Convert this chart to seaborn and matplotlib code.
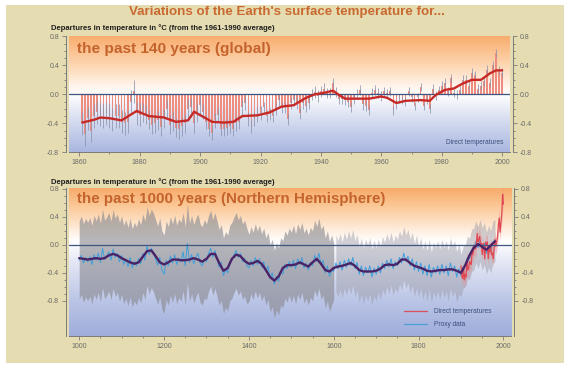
import numpy as np
import matplotlib
matplotlib.use("Agg")
import matplotlib.pyplot as plt
import seaborn as sns
from matplotlib.colors import LinearSegmentedColormap
from matplotlib.patches import Rectangle
from matplotlib.lines import Line2D
from matplotlib.ticker import MultipleLocator, FixedLocator, FormatStrFormatter

# ---------------- global annual anomalies, 1861-2000 (deg C vs 1961-1990) ----------------
global_years = list(range(1861, 2001))
global_anom = [
    -0.40, -0.55, -0.33, -0.50, -0.30, -0.25, -0.28, -0.30, -0.26, -0.30,
    -0.35, -0.30, -0.30, -0.38, -0.40, -0.38, -0.10, 0.04, -0.26, -0.28,
    -0.25, -0.28, -0.35, -0.42, -0.40, -0.36, -0.45, -0.33, -0.20, -0.42,
    -0.38, -0.46, -0.48, -0.44, -0.40, -0.20, -0.18, -0.40, -0.25, -0.15,
    -0.24, -0.38, -0.48, -0.53, -0.36, -0.28, -0.48, -0.48, -0.46, -0.44,
    -0.48, -0.40, -0.38, -0.18, -0.12, -0.34, -0.44, -0.34, -0.28, -0.26,
    -0.18, -0.30, -0.27, -0.30, -0.20, -0.08, -0.18, -0.18, -0.34, -0.12,
    -0.08, -0.12, -0.26, -0.12, -0.16, -0.12, 0.00, 0.03, -0.02, 0.04,
    0.08, 0.02, 0.02, 0.16, 0.03, -0.06, -0.06, -0.08, -0.10, -0.18,
    -0.06, 0.00, 0.06, -0.14, -0.16, -0.22, 0.02, 0.06, 0.02, -0.02,
    0.04, 0.02, 0.04, -0.22, -0.14, -0.06, -0.08, -0.10, 0.04, -0.04,
    -0.16, -0.04, 0.10, -0.16, -0.08, -0.20, 0.08, -0.02, 0.06, 0.12,
    0.16, 0.04, 0.22, 0.02, 0.00, 0.06, 0.20, 0.20, 0.12, 0.30,
    0.26, 0.08, 0.12, 0.18, 0.34, 0.16, 0.40, 0.57, 0.33, 0.30,
]
# two-sigma uncertainty for each 20-year block starting 1861
global_err_blocks = [0.16, 0.13, 0.10, 0.08, 0.07, 0.06, 0.06]

# decadal-scale smoothed global curve
global_smooth_years = [1861, 1865, 1867, 1870, 1874, 1879, 1883, 1888, 1892, 1896,
                       1898, 1901, 1904, 1908, 1911, 1914, 1919, 1923, 1927, 1931,
                       1935, 1938, 1941, 1944, 1946, 1948, 1952, 1956, 1960, 1962,
                       1965, 1968, 1973, 1976, 1978, 1981, 1984, 1987, 1990, 1993,
                       1996, 1998, 2000]
global_smooth = [-0.39, -0.35, -0.32, -0.33, -0.36, -0.23, -0.30, -0.32, -0.38, -0.36,
                 -0.24, -0.31, -0.38, -0.39, -0.38, -0.30, -0.29, -0.25, -0.17, -0.15,
                 -0.05, 0.00, 0.02, 0.05, -0.01, -0.06, -0.06, -0.06, -0.03, -0.05,
                 -0.12, -0.09, -0.08, -0.09, -0.01, 0.06, 0.08, 0.15, 0.20, 0.20,
                 0.29, 0.33, 0.33]

# ---------------- Northern Hemisphere, 1000-2000 ----------------
proxy_years = list(range(1000, 1981, 5))
proxy_anom = [
    -0.22, -0.15, -0.26, -0.18, -0.24, -0.17, -0.28, -0.14, -0.22, -0.12,
    -0.25, -0.05, -0.21, -0.16, -0.10, -0.22, -0.06, -0.18, -0.12, -0.24,
    -0.15, -0.28, -0.20, -0.31, -0.18, -0.33, -0.24, -0.30, -0.19, -0.27,
    -0.12, -0.22, -0.02, -0.14, -0.05, -0.11, -0.20, -0.29, -0.18, -0.36,
    -0.42, -0.22, -0.30, -0.16, -0.26, -0.14, -0.28, -0.19, -0.24, -0.10,
    -0.30, 0.02, -0.25, -0.14, -0.27, -0.18, -0.12, -0.26, -0.30, -0.20,
    -0.24, -0.12, -0.05, -0.18, -0.08, -0.20, -0.32, -0.25, -0.44, -0.35,
    -0.40, -0.26, -0.22, -0.14, -0.08, -0.18, -0.12, -0.24, -0.19, -0.30,
    -0.33, -0.22, -0.30, -0.18, -0.28, -0.20, -0.32, -0.24, -0.38, -0.30,
    -0.48, -0.40, -0.56, -0.45, -0.52, -0.38, -0.42, -0.28, -0.34, -0.24,
    -0.32, -0.22, -0.34, -0.20, -0.28, -0.18, -0.33, -0.26, -0.36, -0.25,
    -0.30, -0.15, -0.24, -0.12, -0.28, -0.22, -0.40, -0.30, -0.45, -0.36,
    -0.38, -0.26, -0.34, -0.24, -0.36, -0.22, -0.32, -0.20, -0.30, -0.18,
    -0.34, -0.25, -0.42, -0.30, -0.44, -0.32, -0.40, -0.30, -0.46, -0.33,
    -0.42, -0.30, -0.40, -0.26, -0.34, -0.22, -0.32, -0.20, -0.34, -0.24,
    -0.30, -0.18, -0.26, -0.12, -0.24, -0.16, -0.30, -0.20, -0.36, -0.24,
    -0.38, -0.26, -0.42, -0.30, -0.44, -0.28, -0.46, -0.32, -0.40, -0.30,
    -0.42, -0.28, -0.40, -0.30, -0.44, -0.26, -0.38, -0.30, -0.46, -0.34,
    -0.44, -0.32, -0.30, -0.18, -0.20, -0.08, -0.06, 0.04, -0.04, 0.06,
    -0.06, 0.02, -0.12, -0.02, -0.10, 0.04, 0.06,
]
# half-width of the 95% range, one value per century from 1000
proxy_halfwidth = [0.56, 0.56, 0.56, 0.54, 0.48, 0.50, 0.40, 0.38, 0.36, 0.30]

nh_smooth_years = list(range(1000, 1981, 10))
nh_smooth = [
    -0.19, -0.20, -0.21, -0.20, -0.19, -0.20, -0.19, -0.15, -0.13, -0.15,
    -0.19, -0.22, -0.25, -0.27, -0.25, -0.17, -0.09, -0.08, -0.16, -0.25,
    -0.28, -0.25, -0.21, -0.21, -0.22, -0.22, -0.21, -0.19, -0.21, -0.24,
    -0.20, -0.13, -0.13, -0.26, -0.37, -0.33, -0.20, -0.14, -0.16, -0.23,
    -0.27, -0.26, -0.23, -0.27, -0.36, -0.46, -0.51, -0.45, -0.33, -0.29,
    -0.29, -0.28, -0.25, -0.28, -0.31, -0.25, -0.20, -0.27, -0.36, -0.38,
    -0.33, -0.31, -0.30, -0.28, -0.26, -0.30, -0.36, -0.38, -0.38, -0.38,
    -0.37, -0.34, -0.29, -0.28, -0.29, -0.27, -0.21, -0.21, -0.26, -0.30,
    -0.32, -0.34, -0.37, -0.38, -0.37, -0.36, -0.36, -0.35, -0.35, -0.37,
    -0.40, -0.29, -0.15, -0.04, 0.01, -0.03, -0.07, -0.01, 0.05,
]

direct_years = list(range(1900, 2001, 2))
direct_anom = [
    -0.30, -0.45, -0.48, -0.32, -0.50, -0.42, -0.46, -0.22, -0.36, -0.34,
    -0.24, -0.26, -0.28, -0.10, -0.14, -0.06, -0.04, -0.06, -0.02, 0.16,
    0.04, 0.08, 0.12, 0.00, 0.02, -0.14, 0.02, -0.06, -0.20, 0.04,
    0.00, 0.04, -0.20, -0.06, -0.10, -0.02, -0.14, -0.12, -0.20, -0.04,
    0.08, -0.02, 0.04, 0.10, 0.28, 0.38, 0.18, 0.32, 0.42, 0.72, 0.58,
]
direct_halfwidth = 0.12

y_tick_values = [-0.8, -0.4, 0.0, 0.4, 0.8]

W, H = 568, 369
PAPER = "#e5dcb2"
TITLE_C = "#c5632c"
TICK_C = "#7a7a7a"
LABEL_C = "#6a6a6a"
NOTE_C = "#3d4d7a"

sns.set_theme(style="white")
plt.rcParams["font.family"] = ["Liberation Sans", "DejaVu Sans"]

fig = plt.figure(figsize=(W / 100, H / 100), dpi=100, facecolor="white")
fig.add_artist(Rectangle((6 / W, 1 - 363 / H), (564 - 6) / W, (363 - 5) / H,
                         transform=fig.transFigure, facecolor=PAPER,
                         edgecolor="none", zorder=-10))


def px_axes(x0, y0, x1, y1):
    return fig.add_axes([x0 / W, 1 - y1 / H, (x1 - x0) / W, (y1 - y0) / H])


def paint_background(ax, stops):
    cmap = LinearSegmentedColormap.from_list("bg", stops)
    grad = np.linspace(0, 1, 256).reshape(-1, 1)
    ax.imshow(grad, cmap=cmap, aspect="auto", extent=[0, 1, 0, 1],
              transform=ax.transAxes, origin="lower", zorder=0,
              interpolation="bilinear")


def style_axes(ax, major_x, minor_x):
    ax.set_facecolor("none")
    ax.spines["top"].set_visible(False)
    for side in ("left", "right", "bottom"):
        ax.spines[side].set_color(TICK_C)
        ax.spines[side].set_linewidth(0.7)
    ax.spines["left"].set_position(("outward", 2))
    ax.spines["right"].set_position(("outward", 2))
    ax.yaxis.set_major_locator(FixedLocator(y_tick_values))
    ax.yaxis.set_minor_locator(FixedLocator(np.round(np.arange(-0.8, 0.81, 0.1), 1)))
    ax.yaxis.set_major_formatter(FormatStrFormatter("%.1f"))
    ax.xaxis.set_major_locator(MultipleLocator(major_x))
    ax.xaxis.set_minor_locator(MultipleLocator(minor_x))
    ax.tick_params(axis="both", which="both", direction="out", color=TICK_C,
                   width=0.6, labelsize=5.0, labelcolor=LABEL_C, pad=2)
    ax.tick_params(axis="y", which="both", left=True, right=True,
                   labelleft=True, labelright=True)
    ax.tick_params(axis="x", which="both", bottom=True, top=False)
    ax.tick_params(which="major", length=3)
    ax.tick_params(which="minor", length=1.6)
    ax.grid(False)


# ---------------- upper panel: 140 years, global ----------------
ax1 = px_axes(69, 36.3, 510, 152.3)
paint_background(ax1, [(0.0, "#a9b6e0"), (0.25, "#d2d9ef"), (0.47, "#fafbfd"),
                       (0.56, "#fff6ee"), (0.78, "#fdd1a9"), (1.0, "#f8ad6e")])

g_years = np.array(global_years)
g_vals = np.array(global_anom)
g_err = np.array(global_err_blocks)[(g_years - 1861) // 20]

ax1.bar(g_years, g_vals, width=0.6, color="#ef8c80", edgecolor="none",
        zorder=2)
ax1.vlines(g_years, g_vals - g_err, g_vals + g_err, color="#8d93ad",
           linewidth=0.55, zorder=3)
ax1.axhline(0, color="#3e5580", linewidth=0.9, zorder=4)
sns.lineplot(x=global_smooth_years, y=global_smooth, ax=ax1, color="#c62a26",
             linewidth=1.7, zorder=5)
ax1.set_xlim(1856.6, 2002.6)
ax1.set_ylim(-0.8, 0.8)
style_axes(ax1, 20, 10)
ax1.set_xlabel("")
ax1.set_ylabel("")

# ---------------- lower panel: 1000 years, Northern Hemisphere ----------------
ax2 = px_axes(69, 188, 511.5, 336)
paint_background(ax2, [(0.0, "#9fadda"), (0.25, "#bcc6e7"), (0.5, "#e4e8f5"),
                       (0.64, "#ffffff"), (0.74, "#fee8d4"), (0.88, "#fbc896"),
                       (1.0, "#f7ab6b")])

p_years = np.array(proxy_years)
p_vals = np.array(proxy_anom)
p_half = np.array(proxy_halfwidth)[(p_years - 1000) // 100]
early = p_years <= 1600
ax2.fill_between(p_years, p_vals - p_half, p_vals + p_half, where=early,
                 color="#8a8a90", alpha=0.62, linewidth=0, zorder=1)
ax2.fill_between(p_years, p_vals - p_half, p_vals + p_half, where=~early,
                 color="#9898a4", alpha=0.45, linewidth=0, zorder=1)

d_years = np.array(direct_years)
d_vals = np.array(direct_anom)
ax2.fill_between(d_years, d_vals - direct_halfwidth, d_vals + direct_halfwidth,
                 color="#e88a8c", alpha=0.45, linewidth=0, zorder=2)

sns.lineplot(x=proxy_years, y=proxy_anom, ax=ax2, color="#3f9fdc",
             linewidth=0.7, zorder=3)
sns.lineplot(x=direct_years, y=direct_anom, ax=ax2, color="#df4a55",
             linewidth=0.9, zorder=4)
ax2.axhline(0, color="#3e5580", linewidth=0.9, zorder=5)
sns.lineplot(x=nh_smooth_years, y=nh_smooth, ax=ax2, color="#4a2266",
             linewidth=1.7, zorder=6)
ax2.set_xlim(976, 2019)
ax2.set_ylim(-1.3, 0.81)
style_axes(ax2, 200, 50)
ax2.set_xlabel("")
ax2.set_ylabel("")

legend_handles = [Line2D([], [], color="#d8505a", linewidth=0.9),
                  Line2D([], [], color="#4aa0d8", linewidth=0.9)]
ax2.legend(legend_handles, ["Direct temperatures", "Proxy data"],
           loc="lower left", bbox_to_anchor=((399 - 69) / 442.5, 0.02),
           frameon=False, fontsize=4.7, labelcolor=NOTE_C, handlelength=3.6,
           handletextpad=1.1, labelspacing=1.0, borderpad=0.2)

# ---------------- titles and notes ----------------
fig.text(287 / W, 1 - 12 / H, "Variations of the Earth's surface temperature for...",
         ha="center", va="center", fontsize=9.6, fontweight="bold", color="#c96a32")
for y in (28.5, 182.5):
    fig.text(51 / W, 1 - y / H,
             "Departures in temperature in °C (from the 1961-1990 average)",
             ha="left", va="center", fontsize=5.5, fontweight="bold", color="#1e1e1e")
fig.text(77 / W, 1 - 49 / H, "the past 140 years (global)", ha="left", va="center",
         fontsize=11.1, fontweight="bold", color=TITLE_C)
fig.text(77 / W, 1 - 199.5 / H, "the past 1000 years (Northern Hemisphere)",
         ha="left", va="center", fontsize=10.9, fontweight="bold", color=TITLE_C)
fig.text(503 / W, 1 - 142 / H, "Direct temperatures", ha="right", va="center",
         fontsize=4.7, color=NOTE_C)

fig.savefig("out.png", dpi=100, facecolor="white")
